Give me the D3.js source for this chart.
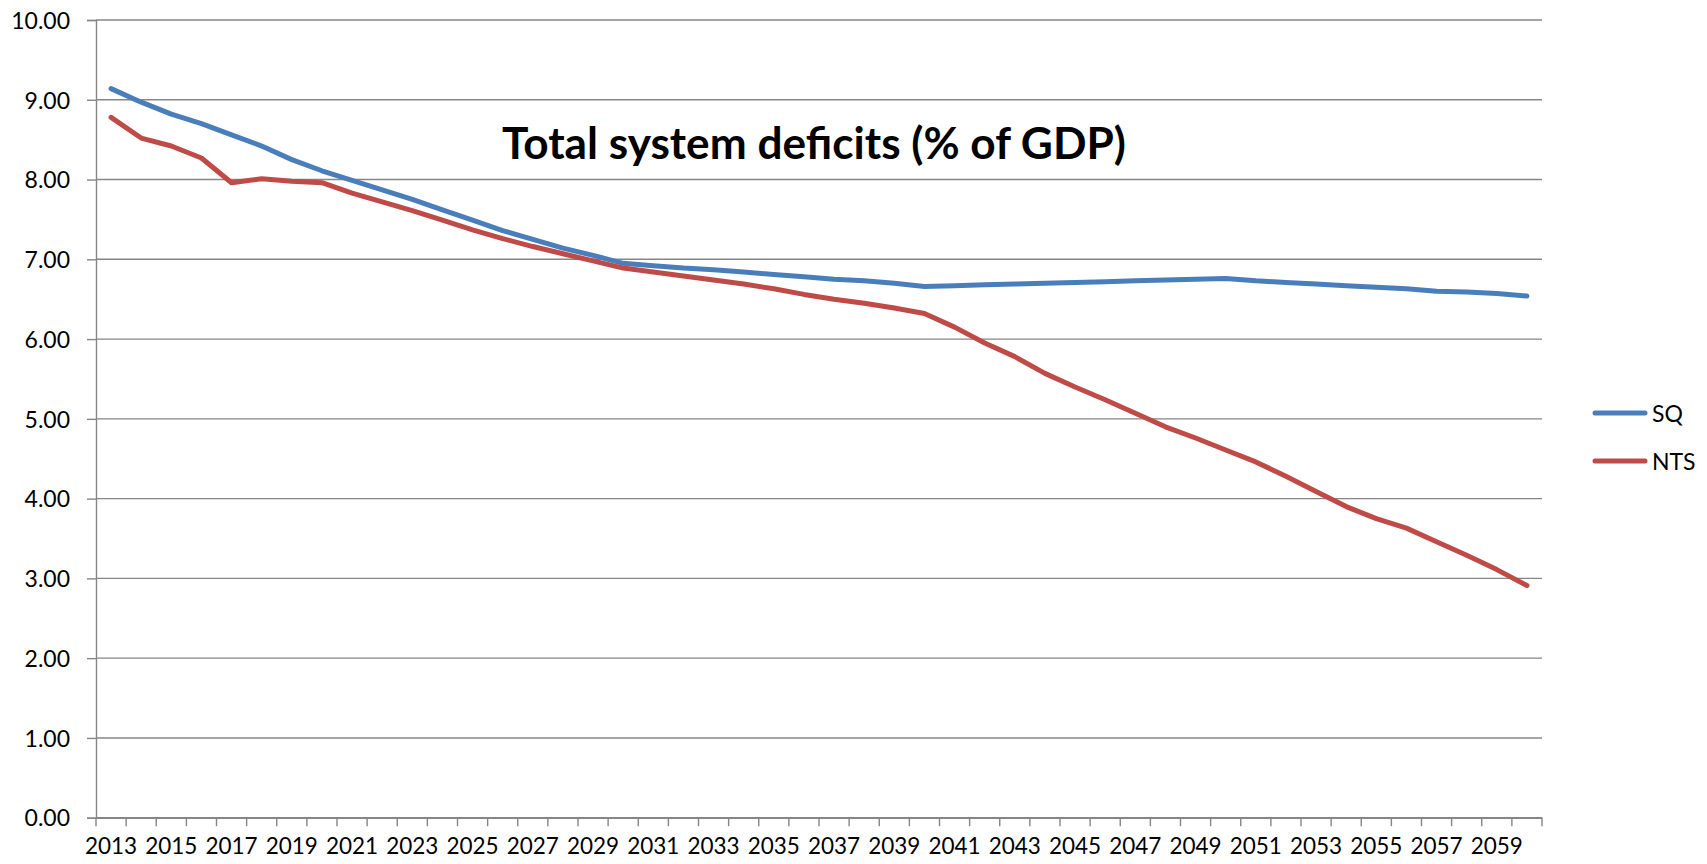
<!DOCTYPE html>
<html>
<head>
<meta charset="utf-8">
<script src="https://cdn.jsdelivr.net/npm/d3@7"></script>
<style>
  html, body { margin: 0; padding: 0; background: #ffffff; }
  svg { display: block; }
  text { font-family: Lato, "Open Sans", sans-serif; fill: #000; }
</style>
</head>
<body>
<svg id="chart" width="1707" height="864"></svg>
<script>
const years = [2013,2014,2015,2016,2017,2018,2019,2020,2021,2022,2023,2024,2025,2026,2027,2028,2029,2030,
  2031,2032,2033,2034,2035,2036,2037,2038,2039,2040,2041,2042,2043,2044,2045,2046,2047,2048,2049,2050,
  2051,2052,2053,2054,2055,2056,2057,2058,2059,2060];

const sqValues = [9.14,8.97,8.82,8.70,8.56,8.42,8.25,8.11,7.99,7.87,7.75,7.62,7.49,7.36,7.25,7.14,7.05,6.95,
  6.92,6.89,6.87,6.84,6.81,6.78,6.75,6.73,6.70,6.66,6.67,6.68,6.69,6.70,6.71,6.72,6.73,6.74,6.75,6.76,
  6.73,6.71,6.69,6.67,6.65,6.63,6.60,6.59,6.57,6.54];

const ntsValues = [8.78,8.52,8.42,8.27,7.96,8.01,7.98,7.96,7.83,7.72,7.61,7.49,7.37,7.26,7.16,7.07,6.98,6.89,
  6.84,6.79,6.74,6.69,6.63,6.56,6.50,6.45,6.39,6.32,6.15,5.95,5.78,5.57,5.40,5.24,5.07,4.90,4.76,4.61,
  4.46,4.28,4.09,3.90,3.75,3.63,3.46,3.29,3.11,2.91];

const yTicks = [0,1,2,3,4,5,6,7,8,9,10];
const xLabelYears = years.filter(y => y % 2 === 1);
const seriesNames = ["SQ", "NTS"];
const seriesColors = ["#4A7EBB", "#BE4B48"];
const titleText = "Total system deficits (% of GDP)";

(function () {
const svg = d3.select("#chart");
const pLeft = 96, pRight = 1542, pTop = 20, pBottom = 817.7;
const gridColor = "#868686";

const x = d3.scaleBand().domain(years).range([pLeft, pRight]).padding(0);
const y = d3.scaleLinear().domain([0, 10]).range([pBottom, pTop]);
const cx = d => x(d) + x.bandwidth() / 2;

// gridlines
svg.append("g").selectAll("line").data(yTicks).join("line")
  .attr("x1", pLeft).attr("x2", pRight)
  .attr("y1", d => y(d)).attr("y2", d => y(d))
  .attr("stroke", gridColor).attr("stroke-width", 1.4);

// y axis
const yAxis = svg.append("g").attr("transform", `translate(${pLeft},0)`)
  .call(d3.axisLeft(y).tickValues(yTicks).tickFormat(d3.format(".2f")).tickSize(9).tickPadding(17));
yAxis.select(".domain").attr("stroke", gridColor).attr("stroke-width", 1.4);
yAxis.selectAll(".tick line").attr("stroke", gridColor).attr("stroke-width", 1.4);
yAxis.selectAll(".tick text").style("font-family", "Lato").style("font-size", "23px").attr("fill", "#000").attr("dy", "0.36em");

// x axis
const xAxis = svg.append("g").attr("transform", `translate(0,${pBottom})`)
  .call(d3.axisBottom(x).tickValues(xLabelYears).tickSize(0).tickPadding(25));
xAxis.select(".domain").attr("stroke", gridColor).attr("stroke-width", 1.4);
xAxis.selectAll(".tick text").style("font-family", "Lato").style("font-size", "22.5px").attr("fill", "#000").attr("dy", "0.5em");

// category boundary ticks
const boundaries = years.map(d => x(d)).concat([pRight]);
svg.append("g").selectAll("line").data(boundaries).join("line")
  .attr("x1", d => d).attr("x2", d => d)
  .attr("y1", pBottom).attr("y2", pBottom + 8.5)
  .attr("stroke", gridColor).attr("stroke-width", 1.4);

// lines
const line = d3.line().x((d, i) => cx(years[i])).y(d => y(d));
[sqValues, ntsValues].forEach((vals, k) => {
  svg.append("path").datum(vals)
    .attr("d", line)
    .attr("fill", "none")
    .attr("stroke", seriesColors[k])
    .attr("stroke-width", 5)
    .attr("stroke-linejoin", "round")
    .attr("stroke-linecap", "round");
});

// title
const title = svg.append("text")
  .attr("x", 814).attr("y", 159)
  .attr("text-anchor", "middle")
  .style("font-family", "Lato").style("font-weight", "bold").style("font-size", "44px")
  .text(titleText);
const tw = title.node().getComputedTextLength();
if (tw > 0) title.style("font-size", (44 * 624 / tw).toFixed(2) + "px");

// legend
const legendY = [413, 461];
seriesNames.forEach((name, k) => {
  svg.append("line")
    .attr("x1", 1595).attr("x2", 1645)
    .attr("y1", legendY[k]).attr("y2", legendY[k])
    .attr("stroke", seriesColors[k]).attr("stroke-width", 5)
    .attr("stroke-linecap", "round");
  svg.append("text")
    .attr("x", 1652).attr("y", legendY[k] + 8.5)
    .style("font-family", "Lato").style("font-size", "23px")
    .text(name);
});
})();
</script>
</body>
</html>
